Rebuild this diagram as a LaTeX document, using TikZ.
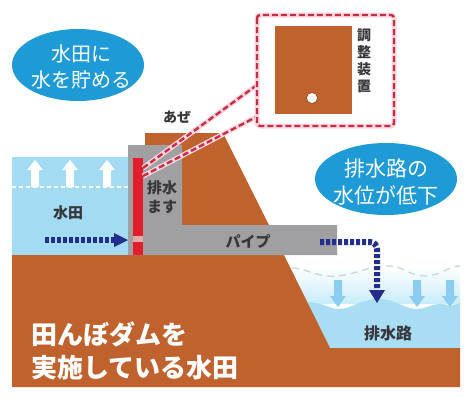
\documentclass[tikz,border=0pt]{standalone}
\usepackage{fontspec}
\newfontfamily\jp{Noto Sans CJK JP}
\usetikzlibrary{arrows.meta,shapes.geometric}
\definecolor{soil}{RGB}{192,98,45}
\definecolor{paddy}{RGB}{162,219,242}
\definecolor{paddytop}{RGB}{200,236,250}
\definecolor{concrete}{RGB}{160,160,162}
\definecolor{gate}{RGB}{226,30,45}
\definecolor{gatehole}{RGB}{235,170,170}
\definecolor{navy}{RGB}{35,45,140}
\definecolor{bubble}{RGB}{30,155,215}
\definecolor{channel}{RGB}{168,221,243}
\definecolor{fallarrow}{RGB}{140,204,240}
\definecolor{oldlevel}{RGB}{200,214,224}
\definecolor{callred}{RGB}{200,45,70}
\definecolor{callglow}{RGB}{250,215,222}
\definecolor{labelgray}{RGB}{55,55,60}
\tikzset{
  bubbletext/.style={font=\jp\fontsize{20}{26}\selectfont, text=white, align=center},
  label/.style={font=\jp\bfseries\fontsize{14}{17}\selectfont, text=labelgray, align=center, inner sep=0pt},
  flowarrow/.style={draw=navy, line width=6pt, dash pattern=on 4pt off 2pt},
  callline/.style={draw=callred, line width=2.4pt, dash pattern=on 6pt off 3pt},
  callhalo/.style={draw=callglow, line width=5pt},
}
\begin{document}
\begin{tikzpicture}[x=1pt,y=-1pt]
\useasboundingbox (0,0) rectangle (469,397);
\fill[white] (0,0) rectangle (469,397);

% paddy water
\fill[paddy] (12,157) rectangle (128,255);
\draw[white, line width=1.2pt, dash pattern=on 4pt off 3pt] (12,187) -- (128,187);
% rising water arrows
\foreach \ax in {35,70,107}{
  \fill[white] (\ax-4,187) -- (\ax-4,170) -- (\ax-8,170) -- (\ax,160) -- (\ax+8,170) -- (\ax+4,170) -- (\ax+4,187) -- cycle;
}

% pale band above the lowered channel level
\shade[top color=white, bottom color=paddytop] (289,266) -- (460,266) -- (460,304) -- (308,304) -- cycle;

% channel water
\fill[channel] (306,302) .. controls (322,302) and (330,309) .. (338,309)
  .. controls (352,309) and (362,299) .. (378,299)
  .. controls (395,299) and (405,309) .. (417,309)
  .. controls (428,309) and (436,300) .. (450,306)
  -- (460,303) -- (460,348) -- (330,348) -- cycle;

% former water level
\draw[oldlevel, line width=1.3pt, dash pattern=on 7pt off 5pt]
  (292,268) .. controls (305,268) and (318,278) .. (338,276)
  .. controls (358,274) and (370,265) .. (390,266)
  .. controls (405,267) and (410,276) .. (425,276)
  .. controls (440,276) and (448,266) .. (460,266);

% falling water arrows
\foreach \ax in {338,417,450}{
  \fill[fallarrow] (\ax-4,280) -- (\ax+4,280) -- (\ax+4,296) -- (\ax+8,296) -- (\ax,307) -- (\ax-8,296) -- (\ax-4,296) -- cycle;
}

% ground and levee
\fill[soil] (12,255) -- (284,255) -- (330,348) -- (460,348) -- (460,387) -- (12,387) -- cycle;
\fill[soil] (145,133) -- (223,133) -- (269,225) -- (182,225) -- (182,145) -- (145,145) -- cycle;

% drain box and pipe
\fill[concrete] (128,145) -- (182,145) -- (182,225) -- (337,225) -- (337,255) -- (128,255) -- cycle;

% control gate
\fill[gate] (133,158) rectangle (143,236);
\fill[gatehole] (133,236) rectangle (143,242);
\fill[gate] (133,242) rectangle (143,255);

% flow into the drain box
\draw[flowarrow] (45,240) -- (116,240);
\fill[navy] (114,233) -- (128,240) -- (114,247) -- cycle;

% flow out of the pipe into the channel
\draw[flowarrow, rounded corners=7pt] (320,242) -- (377,242) -- (377,291);
\fill[navy] (369,290) -- (385,290) -- (377,303) -- cycle;

% callout of the control device
\coordinate (tipA) at (143,168);
\coordinate (tipB) at (143,176);
\coordinate (boxA) at (257,85);
\coordinate (boxB) at (258,116);
\draw[callhalo] (tipA) -- (boxA);
\draw[callhalo] (tipB) -- (boxB);
\draw[callline] (tipA) -- (boxA);
\draw[callline] (tipB) -- (boxB);
\path[callhalo, fill=white, rounded corners=3pt] (257,15) rectangle (394,126);
\draw[callline, rounded corners=3pt] (257,15) rectangle (394,126);
\fill[soil] (275,26) rectangle (352,114);
\draw[fill=white, draw=soil!70!black, line width=0.6pt] (312,98) circle (5.5);
\node[label, font=\jp\bfseries\fontsize{14}{17}\selectfont] (device) at (364,61) {調\\整\\装\\置};

% speech bubbles
\fill[bubble] (78,65) ellipse [x radius=66, y radius=36];
\node[bubbletext] (storetext) at (81,67) {水田に\\水を貯める};
\fill[bubble] (386,179) ellipse [x radius=71, y radius=36];
\node[bubbletext, font=\jp\fontsize{21}{27}\selectfont] (droptext) at (386,182) {排水路の\\水位が低下};

% labels
\node[label] (azelabel) at (177,117) {あぜ};
\node[label, font=\jp\bfseries\fontsize{15}{19}\selectfont] (masulabel) at (162,197) {排水\\ます};
\node[label, font=\jp\bfseries\fontsize{15}{19}\selectfont] (paddylabel) at (68,213) {水田};
\node[label, font=\jp\bfseries\fontsize{15}{19}\selectfont] (pipelabel) at (248,242) {パイプ};
\node[label, font=\jp\bfseries\fontsize{16}{19}\selectfont] (channellabel) at (388,333) {排水路};

% title on the ground
\node[anchor=west, font=\jp\bfseries\fontsize{26}{33}\selectfont, text=white, align=left, inner sep=0pt] (title) at (31,351) {田んぼダムを\\実施している水田};
\end{tikzpicture}
\end{document}
